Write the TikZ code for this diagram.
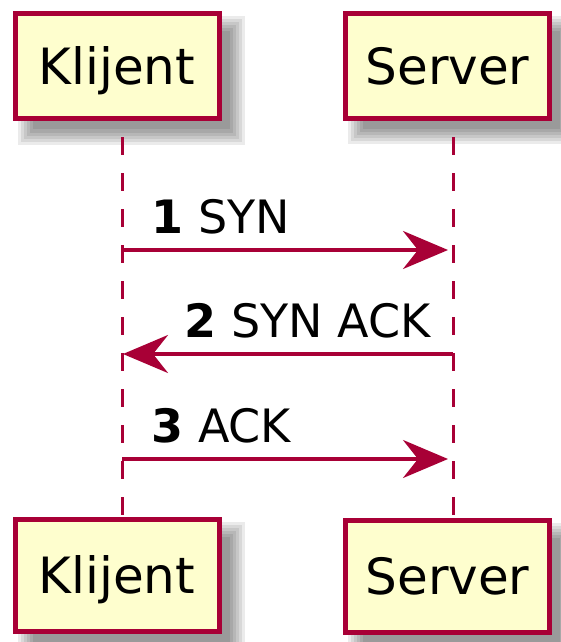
\documentclass[tikz,border=0pt]{standalone}
\usepackage{fontspec}
\setmainfont{DejaVu Sans}
\usetikzlibrary{arrows.meta,backgrounds}
\definecolor{pborder}{HTML}{A80036}
\definecolor{pfill}{HTML}{FEFECE}
\begin{document}
\begin{tikzpicture}[x=0.5pt,y=-0.5pt,
  pbox/.style={draw=pborder,fill=pfill,line width=2.5pt,inner sep=0pt,
    minimum width=102pt,text height=18.2pt,text depth=0pt,
    font=\fontsize{25}{30}\selectfont},
  lifeline/.style={draw=pborder,line width=1.5pt,dash pattern=on 9pt off 9pt},
  msg/.style={draw=pborder,line width=1.75pt,
    -{Stealth[length=22.5pt,width=19pt,inset=7.5pt]}},
  lbl/.style={inner sep=0pt,font=\fontsize{23}{28}\selectfont}]
\useasboundingbox (0,0) rectangle (561,642);

% participants
\node[pbox,minimum height=52.5pt] (kt) at (117,66.5) {Klijent};
\node[pbox,minimum height=52.5pt] (st) at (447.5,66) {Server};
\node[pbox,minimum height=56pt] (kb) at (117,575.5) {Klijent};
\node[pbox,minimum height=56pt] (sb) at (447.5,576) {Server};

% lifeline ends
\coordinate (klt) at (122,101);
\coordinate (klb) at (122,519);
\coordinate (slt) at (453,101);
\coordinate (slb) at (453,519);

\begin{scope}[on background layer]
  \fill[white] (0,0) rectangle (561,642);
  \foreach \n in {kt,st,kb,sb}{
    \foreach \b in {9,6,3,0,-3,-6}{
      \fill[black,opacity=0.08] ([shift={(14-\b,14+\b)}]\n.south west)
        rectangle ([shift={(14+\b,14-\b)}]\n.north east);
    }
  }
  \draw[lifeline] (klt) -- (klb);
  \draw[lifeline] (slt) -- (slb);
\end{scope}

% messages
\coordinate (k1) at (122,250);
\coordinate (s1) at (453,250);
\coordinate (k2) at (122,354);
\coordinate (s2) at (453,354);
\coordinate (k3) at (122,459);
\coordinate (s3) at (453,459);

\draw[msg,shorten >=2.5pt] (k1) -- (s1);
\draw[msg,shorten >=0.5pt] (s2) -- (k2);
\draw[msg,shorten >=2.5pt] (k3) -- (s3);

\node[lbl,anchor=base west] (l1) at (151,233) {\textbf{1} SYN};
\node[lbl,anchor=base east] (l2) at (431,337) {\textbf{2} SYN ACK};
\node[lbl,anchor=base west] (l3) at (151,442) {\textbf{3} ACK};
\end{tikzpicture}
\end{document}
